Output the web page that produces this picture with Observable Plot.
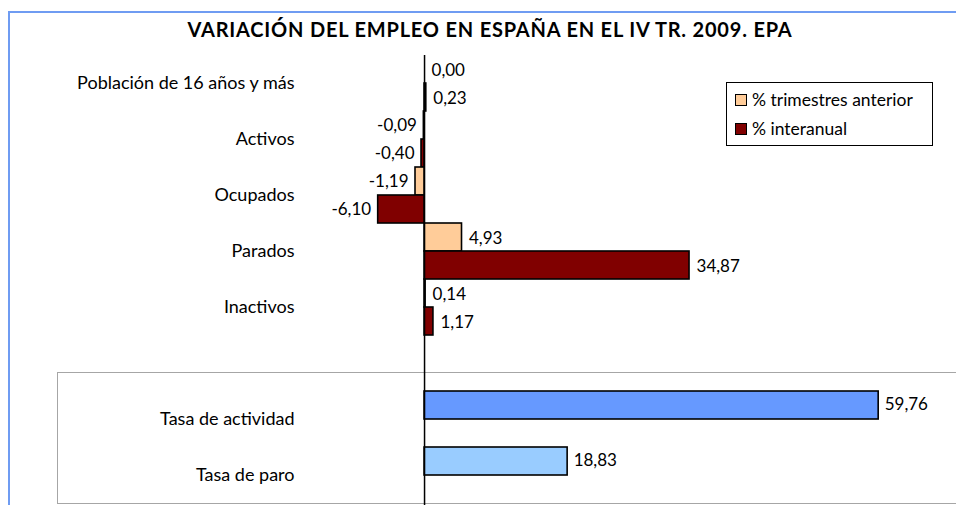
<!DOCTYPE html>
<html>
<head>
<meta charset="utf-8">
<script src="https://cdn.jsdelivr.net/npm/d3@7"></script>
<script src="https://cdn.jsdelivr.net/npm/@observablehq/plot@0.6"></script>
<style>
  html, body { margin: 0; padding: 0; background: #fff; }
  #wrap { position: relative; width: 956px; height: 505px; overflow: hidden; font-family: Lato, "Open Sans", sans-serif; }
  #chart { position: absolute; left: 0; top: 0; }
  #chart svg { display: block; }
  #title { position: absolute; left: 0; width: 980px; top: 17px; text-align: center; font-weight: 700; font-size: 20px; color: #000; letter-spacing: 0.8px; }
  #btop { position: absolute; left: 8px; top: 11px; width: 948px; height: 2px; background: #6f9cf2; }
  #bleft { position: absolute; left: 8px; top: 11px; width: 2px; height: 494px; background: #6f9cf2; }
  #box { position: absolute; left: 57px; top: 372px; width: 905px; height: 130px; border: 1.5px solid #a6a6a6; }
  #legend { position: absolute; left: 726px; top: 82px; width: 205px; height: 62px; border: 1.5px solid #000; background: #fff; font-size: 17.5px; }
  .li { position: absolute; left: 8px; display: flex; align-items: center; white-space: nowrap; }
  .sw { width: 10px; height: 10px; border: 1.5px solid #000; margin-right: 5px; }
</style>
</head>
<body>
<div id="wrap">
  <div id="btop"></div>
  <div id="bleft"></div>
  <div id="box"></div>
  <div id="chart"></div>
  <div id="title">VARIACIÓN DEL EMPLEO EN ESPAÑA EN EL IV TR. 2009. EPA</div>
  <div id="legend"></div>
</div>
<script>
const categories = ["Población de 16 años y más", "Activos", "Ocupados", "Parados", "Inactivos"];
const trimestral = [0.00, -0.09, -1.19, 4.93, 0.14];
const interanual = [0.23, -0.40, -6.10, 34.87, 1.17];
const seriesNames = ["% trimestres anterior", "% interanual"];
const seriesColors = ["#ffcc99", "#800000"];
const tasaLabels = ["Tasa de actividad", "Tasa de paro"];
const tasaValues = [59.76, 18.83];
const tasaColors = ["#6699ff", "#99ccff"];

const fmt = v => v.toFixed(2).replace(".", ",");

// rows of the band scale
const rows = [];
const bars = [];
const catLabels = [];
categories.forEach((c, i) => {
  const r0 = c + "|t", r1 = c + "|i";
  rows.push(r0, r1);
  bars.push({row: r0, value: trimestral[i], color: seriesColors[0]});
  bars.push({row: r1, value: interanual[i], color: seriesColors[1]});
  catLabels.push({row: r0, label: c});
});
rows.push("gap1", "gap2");
const tasaBars = [];
tasaLabels.forEach((t, i) => {
  rows.push(t, "gap" + (3 + i));
  tasaBars.push({row: t, value: tasaValues[i], color: tasaColors[i], label: t});
});

const font = "Lato, 'Open Sans', sans-serif";
const allBars = bars.concat(tasaBars);

const chart = Plot.plot({
  width: 956,
  height: 505,
  marginTop: 55,
  marginBottom: 2,
  marginLeft: 0,
  marginRight: 0,
  style: {fontFamily: font, background: "transparent"},
  x: {domain: [-55.8, 70], axis: null},
  y: {domain: rows, type: "band", padding: 0, axis: null},
  marks: [
    Plot.barX(allBars, {x: "value", y: "row", fill: "color", stroke: "#000", strokeWidth: 1.6}),
    Plot.ruleX([0], {stroke: "#000", strokeWidth: 1.5, insetBottom: -3}),
    Plot.text(bars.filter(d => d.value >= 0), {x: "value", y: "row", text: d => fmt(d.value), textAnchor: "start", dx: 7, dy: 1, fontSize: 17, fill: "#000"}),
    Plot.text(bars.filter(d => d.value < 0), {x: "value", y: "row", text: d => fmt(d.value), textAnchor: "end", dx: -7, dy: 0, fontSize: 17, fill: "#000"}),
    Plot.text(tasaBars, {x: "value", y: "row", text: d => fmt(d.value), textAnchor: "start", dx: 6, dy: -1, fontSize: 17, fill: "#000"}),
    Plot.text(catLabels, {frameAnchor: "left", y: "row", text: "label", textAnchor: "end", dx: 294, dy: 14, fontSize: 18, fill: "#000"}),
    Plot.text(tasaBars, {frameAnchor: "left", y: "row", text: "label", textAnchor: "end", dx: 294, dy: 14, fontSize: 18, fill: "#000"})
  ]
});
document.getElementById("chart").appendChild(chart);

const legend = document.getElementById("legend");
seriesNames.forEach((n, i) => {
  const li = document.createElement("div");
  li.className = "li";
  li.style.top = (i === 0 ? 6 : 35) + "px";
  const sw = document.createElement("div");
  sw.className = "sw";
  sw.style.background = seriesColors[i];
  li.appendChild(sw);
  const tx = document.createElement("span");
  tx.textContent = n;
  li.appendChild(tx);
  legend.appendChild(li);
});
</script>
</body>
</html>
